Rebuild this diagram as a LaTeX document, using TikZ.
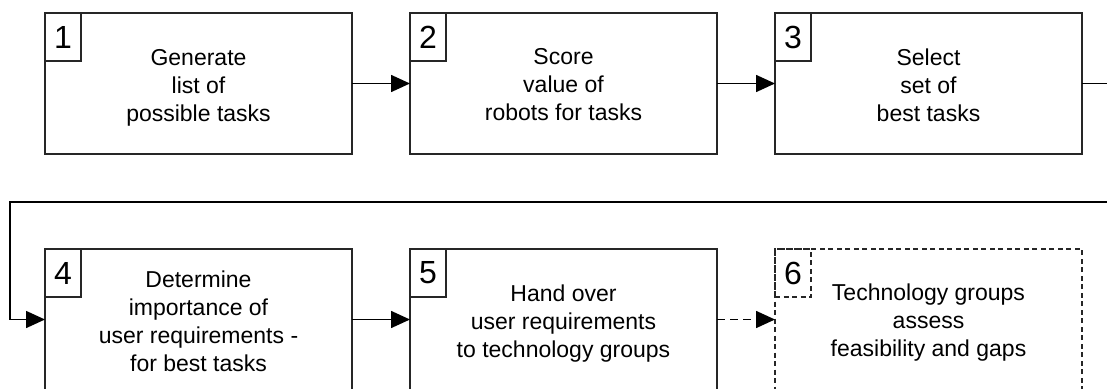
\documentclass[tikz,border=0pt]{standalone}
\usepackage{fontspec}
\setmainfont{Liberation Sans}
\usetikzlibrary{arrows.meta}
\tikzset{
  stepbox/.style={draw=black!85, line width=1.1pt, minimum width=307pt, minimum height=141pt,
    anchor=north west, inner sep=0pt, outer sep=0pt},
  numbox/.style={draw=black!85, line width=1.1pt, minimum width=36pt, minimum height=48pt,
    anchor=north west, inner sep=0pt, outer sep=0pt, font=\fontsize{32}{32}\selectfont},
  steptext/.style={align=center, inner sep=0pt, font=\fontsize{23}{28}\selectfont},
  flow/.style={line width=1.6pt, -{Triangle[length=19pt,width=17pt]}},
  tentative/.style={dash pattern=on 5pt off 3.5pt},
  tentativeflow/.style={dash pattern=on 8pt off 5pt},
}
\begin{document}
\begin{tikzpicture}[x=1pt,y=-1pt]
  \useasboundingbox (0,0) rectangle (1107,388);
  \clip (0,0) rectangle (1107,388);

  % first row
  \node[stepbox] (s1) at (45,13) {};
  \node[stepbox] (s2) at (410,13) {};
  \node[stepbox] (s3) at (775,13) {};
  \node[numbox] (n1) at (45,13) {1};
  \node[numbox] (n2) at (410,13) {2};
  \node[numbox] (n3) at (775,13) {3};
  \node[steptext, yshift=-4pt] (t1) at (s1.center) {Generate\\list of\\possible tasks};
  \node[steptext, yshift=-1.5pt] (t2) at (s2.center) {Score\\value of\\robots for tasks};
  \node[steptext, yshift=-1.5pt] (t3) at (s3.center) {Select\\set of\\best tasks};

  % second row
  \node[stepbox] (s4) at (45,249) {};
  \node[stepbox] (s5) at (410,249) {};
  \node[stepbox, tentative] (s6) at (775,249) {};
  \node[numbox] (n4) at (45,249) {4};
  \node[numbox] (n5) at (410,249) {5};
  \node[numbox, tentative] (n6) at (775,249) {6};
  \node[steptext, yshift=-1.5pt] (t4) at (s4.center) {Determine\\importance of\\user requirements -\\for best tasks};
  \node[steptext, yshift=-4.5pt] (t5) at (s5.center) {Hand over\\user requirements\\to technology groups};
  \node[steptext, yshift=-3pt] (t6) at (s6.center) {Technology groups\\assess\\feasibility and gaps};

  % connectors
  \draw[flow] (s1) -- (s2);
  \draw[flow] (s2) -- (s3);
  \coordinate (wrapA) at (1125,83.5);
  \coordinate (wrapB) at (1125,202);
  \coordinate (wrapC) at (10,202);
  \draw[flow] (s3.east) -- (wrapA) -- (wrapB) -- (wrapC) |- (s4.west);
  \draw[flow] (s4) -- (s5);
  \draw[flow, tentativeflow] (s5) -- (s6);
\end{tikzpicture}
\end{document}
